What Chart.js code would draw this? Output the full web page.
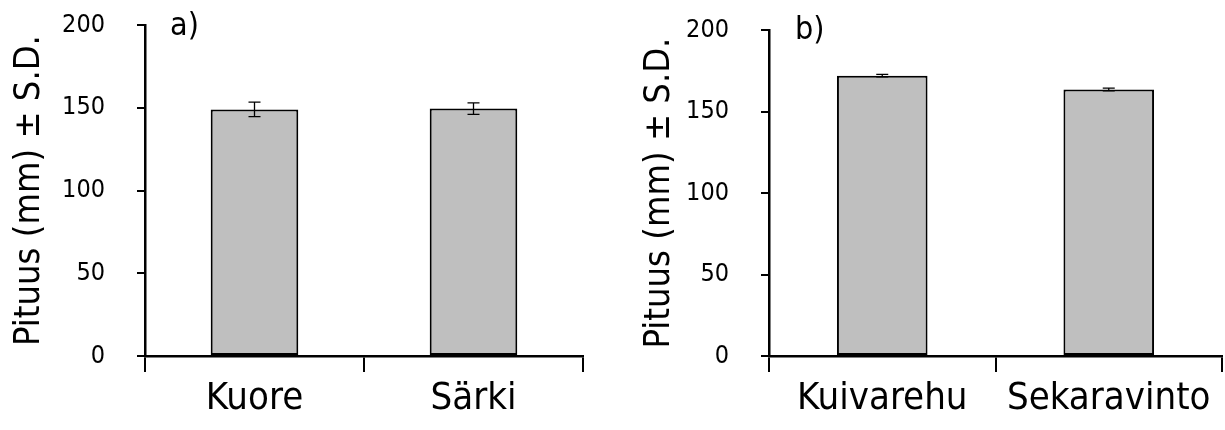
<!DOCTYPE html>
<html>
<head>
<meta charset="utf-8">
<script src="https://cdn.jsdelivr.net/npm/chart.js@4.4.0/dist/chart.umd.min.js"></script>
<style>
    body { margin: 0; background: #fff; }
    #wrap { position: relative; width: 1225px; height: 430px; }
    #leftBox { position: absolute; left: 0; top: 0; width: 600px; height: 430px; }
    #rightBox { position: absolute; left: 600px; top: 0; width: 625px; height: 430px; }
</style>
</head>
<body>
<div id="wrap">
    <div id="leftBox"><canvas id="chartA" width="600" height="430"></canvas></div>
    <div id="rightBox"><canvas id="chartB" width="625" height="430"></canvas></div>
</div>
<script>
const FONT = '"Liberation Sans Narrow", "DejaVu Sans Condensed", "Liberation Sans", sans-serif';
const yTitle = 'Pituus (mm) ± S.D.';

// panel a
const catsA = ['Kuore', 'Särki'];
const meanA = [149, 149.5];
const sdA = [4.4, 3.5];

// panel b
const catsB = ['Kuivarehu', 'Sekaravinto'];
const meanB = [172, 163.5];
const sdB = [0.8, 0.8];

const yTicks = [0, 50, 100, 150, 200];

// error bars drawn from the sd arrays via the chart's own scales
const errorBars = {
    id: 'errorBars',
    afterDatasetsDraw(chart, args, opts) {
        const ctx = chart.ctx;
        const meta = chart.getDatasetMeta(0);
        const y = chart.scales.y;
        ctx.save();
        ctx.strokeStyle = '#000';
        ctx.lineWidth = 1.3;
        meta.data.forEach((bar, i) => {
            const m = opts.mean[i], s = opts.sd[i];
            const yTop = y.getPixelForValue(m + s);
            const yBot = y.getPixelForValue(m - s);
            const x = bar.x;
            ctx.beginPath();
            ctx.moveTo(x, yTop); ctx.lineTo(x, yBot);
            ctx.moveTo(x - 6, yTop); ctx.lineTo(x + 6, yTop);
            ctx.moveTo(x - 6, yBot); ctx.lineTo(x + 6, yBot);
            ctx.stroke();
        });
        ctx.restore();
    }
};

const panelLabel = {
    id: 'panelLabel',
    afterDraw(chart, args, opts) {
        const ctx = chart.ctx;
        ctx.save();
        ctx.fillStyle = '#000';
        ctx.font = '32px ' + FONT;
        ctx.textBaseline = 'alphabetic';
        ctx.fillText(opts.text, opts.x, opts.y);
        ctx.restore();
    }
};

function makeChart(id, cats, mean, sd, cfg) {
    return new Chart(document.getElementById(id), {
        type: 'bar',
        data: {
            labels: cats,
            datasets: [{
                data: mean,
                backgroundColor: '#bfbfbf',
                borderColor: '#000',
                borderWidth: 2,
                borderSkipped: false,
                barPercentage: 0.8,
                categoryPercentage: 0.5
            }]
        },
        options: {
            responsive: false,
            animation: false,
            events: [],
            layout: { padding: { left: 0, top: cfg.top, right: cfg.right, bottom: 0 } },
            plugins: {
                legend: { display: false },
                tooltip: { enabled: false },
                errorBars: { mean: mean, sd: sd },
                panelLabel: cfg.label
            },
            scales: {
                x: {
                    offset: true,
                    grid: {
                        offset: true,
                        drawOnChartArea: false,
                        drawTicks: true,
                        tickLength: 16,
                        color: '#000',
                        lineWidth: 2
                    },
                    border: { display: true, color: '#000', width: 2.5 },
                    ticks: {
                        color: '#000',
                        padding: 4,
                        font: { family: FONT, size: 38 },
                        maxRotation: 0,
                        autoSkip: false
                    },
                    afterFit(scale) {
                        scale.height = 430 - 356;
                        scale.paddingLeft = 0;
                        scale.paddingRight = 0;
                    }
                },
                y: {
                    min: 0,
                    max: 200,
                    afterBuildTicks(scale) { scale.ticks = yTicks.map(v => ({ value: v })); },
                    grid: {
                        drawOnChartArea: false,
                        drawTicks: true,
                        tickLength: 8,
                        color: '#000',
                        lineWidth: 2
                    },
                    border: { display: true, color: '#000', width: 2.5 },
                    ticks: {
                        color: '#000',
                        padding: 32,
                        font: { family: FONT, size: 25 }
                    },
                    title: {
                        display: true,
                        text: yTitle,
                        color: '#000',
                        font: { family: FONT, size: 36 },
                        padding: { top: cfg.titlePad, bottom: 0 }
                    },
                    afterFit(scale) {
                        scale.width = cfg.yWidth;
                        scale.paddingTop = 0;
                        scale.paddingBottom = 0;
                    }
                }
            }
        },
        plugins: [errorBars, panelLabel]
    });
}

makeChart('chartA', catsA, meanA, sdA, {
    top: 25, right: 17, yWidth: 145, titlePad: 8,
    label: { text: 'a)', x: 170, y: 35 }
});

makeChart('chartB', catsB, meanB, sdB, {
    top: 30, right: 3, yWidth: 169, titlePad: 38,
    label: { text: 'b)', x: 195, y: 39 }
});
</script>
</body>
</html>
